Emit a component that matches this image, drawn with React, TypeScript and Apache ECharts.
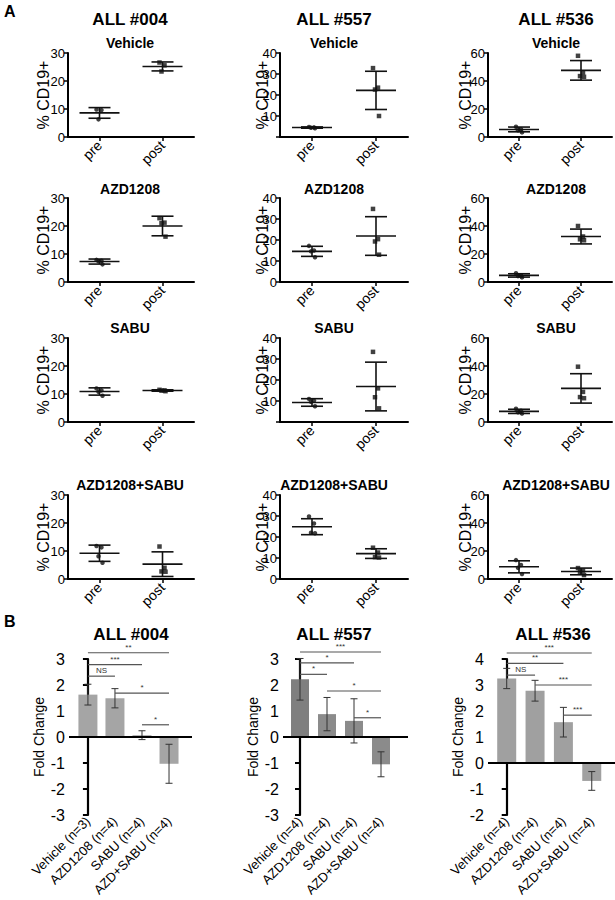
import React, { useEffect, useRef } from 'react';
import * as echarts from 'echarts';

const FONT = '"Liberation Sans", Arial, Helvetica, sans-serif';

// ---------- Panel A data ----------
const PATIENTS = ['ALL #004', 'ALL #557', 'ALL #536'];
const TREATMENTS = ['Vehicle', 'AZD1208', 'SABU', 'AZD1208+SABU'];
const TIMEPOINTS = ['pre', 'post'];
const Y_MAX = [30, 40, 60];
const Y_STEP = [10, 10, 20];

// individual % CD19+ values: [treatment][pre|post][mouse]
const PTS_004 = [
  [[9.8, 9.6, 6.3], [26.6, 25.6, 23.4]],
  [[7.9, 7.6, 7.4, 6.3], [22.8, 21.2, 21.0, 16.2]],
  [[12.0, 11.3, 10.8, 9.4], [11.5, 11.3, 11.2, 11.0]],
  [[11.8, 11.3, 8.1, 5.8], [11.6, 4.0, 2.7, 2.6]],
];
const PTS_557 = [
  [[4.8, 4.6, 4.4, 4.2], [32.8, 23.5, 22.6, 10.0]],
  [[17.2, 15.0, 14.6, 11.8], [34.8, 20.4, 19.3, 13.0]],
  [[11.0, 10.2, 9.6, 7.5], [33.4, 16.0, 11.8, 6.5]],
  [[29.8, 26.4, 22.0, 21.8], [14.9, 12.6, 10.4, 10.2]],
];
const PTS_536 = [
  [[7.3, 5.5, 4.8, 3.3], [58.0, 46.0, 43.5, 43.0]],
  [[6.2, 4.8, 4.2, 3.3], [40.0, 32.5, 30.5, 29.8]],
  [[9.5, 8.0, 7.0, 6.0], [39.5, 21.5, 17.8, 17.0]],
  [[13.5, 10.0, 8.0, 3.5], [7.8, 6.0, 5.2, 2.8]],
];
// mean and SD: [treatment][pre|post]
const MEAN_004 = [[8.6, 25.2], [7.3, 20.0], [10.9, 11.25], [9.2, 5.3]];
const SD_004 = [[1.9, 1.6], [0.9, 3.5], [1.3, 0.25], [2.9, 4.4]];
const MEAN_557 = [[4.5, 22.2], [14.6, 21.9], [9.3, 16.9], [24.9, 12.1]];
const SD_557 = [[0.3, 9.1], [2.4, 9.2], [1.8, 11.6], [3.8, 2.3]];
const MEAN_536 = [[5.4, 47.6], [4.7, 32.5], [7.6, 24.0], [8.7, 5.4]];
const SD_536 = [[1.7, 7.0], [1.2, 5.3], [1.5, 10.5], [4.3, 2.4]];

// ---------- Panel B data ----------
const FC_CATS_004 = ['Vehicle (n=3)', 'AZD1208 (n=4)', 'SABU (n=4)', 'AZD+SABU (n=4)'];
const FC_CATS_557 = ['Vehicle (n=4)', 'AZD1208 (n=4)', 'SABU (n=4)', 'AZD+SABU (n=4)'];
const FC_CATS_536 = ['Vehicle (n=4)', 'AZD1208 (n=4)', 'SABU (n=4)', 'AZD+SABU (n=4)'];
const FC_MEAN_004 = [1.63, 1.49, 0.07, -1.03];
const FC_SD_004 = [0.4, 0.37, 0.17, 0.75];
const FC_MEAN_557 = [2.22, 0.88, 0.62, -1.05];
const FC_SD_557 = [0.8, 0.64, 0.85, 0.48];
const FC_MEAN_536 = [3.25, 2.78, 1.57, -0.69];
const FC_SD_536 = [0.39, 0.4, 0.57, 0.36];
const FC_Y_MIN = [-3, -3, -2];
const FC_Y_MAX = [3, 3, 4];
// significance brackets: [from group, to group, height, label]
const SIG_004: [number, number, number, string][] = [
  [0, 3, 3.24, '**'], [0, 2, 2.78, '***'], [0, 1, 2.34, 'NS'], [1, 3, 1.69, '*'], [2, 3, 0.47, '*'],
];
const SIG_557: [number, number, number, string][] = [
  [0, 3, 3.27, '***'], [0, 2, 2.85, '*'], [0, 1, 2.41, '*'], [1, 3, 1.77, '*'], [2, 3, 0.74, '*'],
];
const SIG_536: [number, number, number, string][] = [
  [0, 3, 4.23, '***'], [0, 2, 3.83, '**'], [0, 1, 3.38, 'NS'], [1, 3, 3.0, '***'], [2, 3, 1.84, '***'],
];

// ---------- layout / style ----------
const COL_LEFT = [68, 280, 488];
const COL_WIDTH = [126, 128, 124];
const COL_CENTER = [130, 334, 556];
const ROW_TOP = [53, 198, 338, 495];
const ROW_H = 84;
const ROW_TITLE_Y = [43, 189, 328, 485];
const Y_NAME_GAP = [17, 10, 15];
const HIDE_ZERO = [[false, false, false, false], [true, false, true, false], [false, false, false, false]];
const JITTER = [-3, 2, -1, 3];

const FC_LEFT = [69, 283, 488];
const FC_WIDTH = [123, 125, 127];
const FC_TOP = 659;
const FC_H = 156;
const FC_X_MIN = [-0.7, -0.63, -0.66];
const FC_X_MAX = [3.85, 4.0, 3.82];
const FC_BAR_W = [19, 18, 19];
const FC_COLORS = [
  ['#a5a5a5', '#a5a5a5', '#a5a5a5', '#a5a5a5'],
  ['#7f7f7f', '#8b8b8b', '#8b8b8b', '#8b8b8b'],
  ['#a0a0a0', '#a0a0a0', '#a0a0a0', '#a0a0a0'],
];
const FC_TITLE_CENTER = [131, 334, 553];

function buildOption() {
  const PTS = [PTS_004, PTS_557, PTS_536];
  const MEANS = [MEAN_004, MEAN_557, MEAN_536];
  const SDS = [SD_004, SD_557, SD_536];
  const grids: any[] = [];
  const xAxes: any[] = [];
  const yAxes: any[] = [];
  const series: any[] = [];
  const graphics: any[] = [];

  const txt = (text: string, x: number, y: number, font: string) => ({
    type: 'text',
    x,
    y,
    silent: true,
    style: { text, font, fill: '#000', align: 'center', verticalAlign: 'middle' },
  });

  graphics.push({ type: 'text', x: 4, y: 11, silent: true, style: { text: 'A', font: `bold 16px ${FONT}`, fill: '#000', verticalAlign: 'middle' } });
  graphics.push({ type: 'text', x: 4, y: 621, silent: true, style: { text: 'B', font: `bold 16px ${FONT}`, fill: '#000', verticalAlign: 'middle' } });

  PATIENTS.forEach((pat, c) => {
    graphics.push(txt(pat, COL_CENTER[c], 19, `bold 17px ${FONT}`));
    TREATMENTS.forEach((tr, r) => {
      graphics.push(txt(tr, COL_CENTER[c], ROW_TITLE_Y[r], `bold 14px ${FONT}`));
      const gi = grids.length;
      grids.push({ left: COL_LEFT[c], top: ROW_TOP[r], width: COL_WIDTH[c], height: ROW_H, outerBoundsMode: 'none', containLabel: false });
      xAxes.push({
        gridIndex: gi,
        type: 'category',
        data: TIMEPOINTS,
        boundaryGap: true,
        axisLine: { show: true, onZero: false, lineStyle: { color: '#000', width: 2 } },
        axisTick: { show: true, alignWithLabel: true, length: 4, lineStyle: { color: '#000', width: 1.5 } },
        axisLabel: { rotate: 45, interval: 0, fontSize: 14, color: '#000', fontFamily: FONT, margin: 6 },
        splitLine: { show: false },
      });
      const hide = HIDE_ZERO[c][r];
      yAxes.push({
        gridIndex: gi,
        type: 'value',
        min: 0,
        max: Y_MAX[c],
        interval: Y_STEP[c],
        name: '% CD19+',
        nameLocation: 'middle',
        nameGap: Y_NAME_GAP[c],
        nameMoveOverlap: false,
        nameTextStyle: { fontSize: 16, color: '#000', fontFamily: FONT },
        axisLine: { show: true, lineStyle: { color: '#000', width: 2 } },
        axisTick: { show: true, length: 4, lineStyle: { color: '#000', width: 1.5 } },
        axisLabel: {
          fontSize: 13,
          color: '#000',
          fontFamily: FONT,
          margin: 3,
          formatter: (v: number) => (hide && v === 0 ? '' : String(v)),
        },
        splitLine: { show: false },
      });
      const pts: any[] = [];
      PTS[c][r].forEach((arr, t) => {
        arr.forEach((v, k) => {
          pts.push({ value: [t, v], symbol: t === 0 ? 'circle' : 'rect', symbolOffset: [JITTER[k % JITTER.length], 0] });
        });
      });
      series.push({
        type: 'scatter',
        xAxisIndex: gi,
        yAxisIndex: gi,
        symbolSize: 4.5,
        itemStyle: { color: '#111' },
        data: pts,
        silent: true,
        z: 3,
      });
      const ms = MEANS[c][r].map((m, t) => [t, m, SDS[c][r][t]]);
      series.push({
        type: 'custom',
        xAxisIndex: gi,
        yAxisIndex: gi,
        silent: true,
        z: 4,
        data: ms,
        renderItem: (params: any, api: any) => {
          const x = api.value(0);
          const m = api.value(1);
          const s = api.value(2);
          const pm = api.coord([x, m]);
          const pt = api.coord([x, m + s]);
          const pb = api.coord([x, m - s]);
          const st = { stroke: '#111', lineWidth: 1.6, fill: 'none' };
          return {
            type: 'group',
            children: [
              { type: 'line', shape: { x1: pm[0] - 20, y1: pm[1], x2: pm[0] + 20, y2: pm[1] }, style: st },
              { type: 'line', shape: { x1: pt[0], y1: pt[1], x2: pb[0], y2: pb[1] }, style: st },
              { type: 'line', shape: { x1: pt[0] - 11, y1: pt[1], x2: pt[0] + 11, y2: pt[1] }, style: st },
              { type: 'line', shape: { x1: pb[0] - 11, y1: pb[1], x2: pb[0] + 11, y2: pb[1] }, style: st },
            ],
          };
        },
      });
    });
  });

  // Panel B
  const FC_CATS = [FC_CATS_004, FC_CATS_557, FC_CATS_536];
  const FC_MEANS = [FC_MEAN_004, FC_MEAN_557, FC_MEAN_536];
  const FC_SDS = [FC_SD_004, FC_SD_557, FC_SD_536];
  const SIGS = [SIG_004, SIG_557, SIG_536];
  PATIENTS.forEach((pat, c) => {
    graphics.push(txt(pat, FC_TITLE_CENTER[c], 634, `bold 17px ${FONT}`));
    const gi = grids.length;
    grids.push({ left: FC_LEFT[c], top: FC_TOP, width: FC_WIDTH[c], height: FC_H, outerBoundsMode: 'none', containLabel: false });
    const cats = FC_CATS[c];
    xAxes.push({
      gridIndex: gi,
      type: 'value',
      min: FC_X_MIN[c],
      max: FC_X_MAX[c],
      axisLine: { show: false, onZero: false },
      axisTick: { show: false },
      axisLabel: {
        customValues: [0, 1, 2, 3],
        formatter: (v: number) => cats[Math.round(v)] ?? '',
        rotate: 45,
        fontSize: 13,
        color: '#000',
        fontFamily: FONT,
        margin: 4,
        showMinLabel: true,
        showMaxLabel: true,
      },
      splitLine: { show: false },
    });
    yAxes.push({
      gridIndex: gi,
      type: 'value',
      min: FC_Y_MIN[c],
      max: FC_Y_MAX[c],
      interval: 1,
      name: 'Fold Change',
      nameLocation: 'middle',
      nameGap: 23,
      nameMoveOverlap: false,
      nameTextStyle: { fontSize: 14, color: '#000', fontFamily: FONT },
      axisLine: { show: true, lineStyle: { color: '#000', width: 2.2 } },
      axisTick: { show: true, length: 5, lineStyle: { color: '#000', width: 2 } },
      axisLabel: { fontSize: 16, color: '#000', fontFamily: FONT, margin: 4 },
      splitLine: { show: false },
    });
    const bw = FC_BAR_W[c];
    const colors = FC_COLORS[c];
    series.push({
      type: 'custom',
      xAxisIndex: gi,
      yAxisIndex: gi,
      silent: true,
      z: 2,
      data: FC_MEANS[c].map((m, i) => [i, m]),
      renderItem: (params: any, api: any) => {
        const x = api.value(0);
        const v = api.value(1);
        const p0 = api.coord([x, 0]);
        const p1 = api.coord([x, v]);
        return {
          type: 'rect',
          shape: { x: p0[0] - bw / 2, y: Math.min(p0[1], p1[1]), width: bw, height: Math.abs(p1[1] - p0[1]) },
          style: { fill: colors[params.dataIndex] },
        };
      },
      markLine: {
        silent: true,
        symbol: 'none',
        label: { show: false },
        lineStyle: { color: '#000', width: 2, type: 'solid' },
        data: [{ yAxis: 0 }],
        z: 5,
      },
    });
    series.push({
      type: 'custom',
      xAxisIndex: gi,
      yAxisIndex: gi,
      silent: true,
      z: 4,
      data: FC_MEANS[c].map((m, i) => [i, m, FC_SDS[c][i]]),
      renderItem: (params: any, api: any) => {
        const x = api.value(0);
        const m = api.value(1);
        const s = api.value(2);
        const pt = api.coord([x, m + s]);
        const pb = api.coord([x, m - s]);
        const st = { stroke: '#333', lineWidth: 1, fill: 'none' };
        return {
          type: 'group',
          children: [
            { type: 'line', shape: { x1: pt[0], y1: pt[1], x2: pb[0], y2: pb[1] }, style: st },
            { type: 'line', shape: { x1: pt[0] - 3.5, y1: pt[1], x2: pt[0] + 3.5, y2: pt[1] }, style: st },
            { type: 'line', shape: { x1: pb[0] - 3.5, y1: pb[1], x2: pb[0] + 3.5, y2: pb[1] }, style: st },
          ],
        };
      },
    });
    const sig = SIGS[c];
    series.push({
      type: 'custom',
      xAxisIndex: gi,
      yAxisIndex: gi,
      silent: true,
      z: 4,
      clip: false,
      data: sig.map((s) => [s[0], s[1], s[2]]),
      renderItem: (params: any, api: any) => {
        const a = api.coord([api.value(0), api.value(2)]);
        const b = api.coord([api.value(1), api.value(2)]);
        const label = sig[params.dataIndex][3];
        return {
          type: 'group',
          children: [
            { type: 'line', shape: { x1: a[0], y1: a[1], x2: b[0], y2: b[1] }, style: { stroke: '#555', lineWidth: 1.2, fill: 'none' } },
            {
              type: 'text',
              x: (a[0] + b[0]) / 2,
              y: a[1] - 1.5,
              style: {
                text: label,
                font: `8px ${FONT}`,
                fill: '#333',
                align: 'center',
                verticalAlign: 'bottom',
              },
            },
          ],
        };
      },
    });
  });

  return {
    animation: false,
    backgroundColor: '#fff',
    textStyle: { fontFamily: FONT },
    grid: grids,
    xAxis: xAxes,
    yAxis: yAxes,
    series,
    graphic: graphics,
  };
}

export default function App() {
  const ref = useRef<HTMLDivElement>(null);
  useEffect(() => {
    if (!ref.current) return;
    const chart = echarts.init(ref.current, null, { renderer: 'svg' });
    chart.setOption(buildOption() as any);
    return () => chart.dispose();
  }, []);
  return (
    <div
      ref={ref}
      style={{ position: 'absolute', left: 0, top: 0, width: 615, height: 900, background: '#fff' }}
    />
  );
}
